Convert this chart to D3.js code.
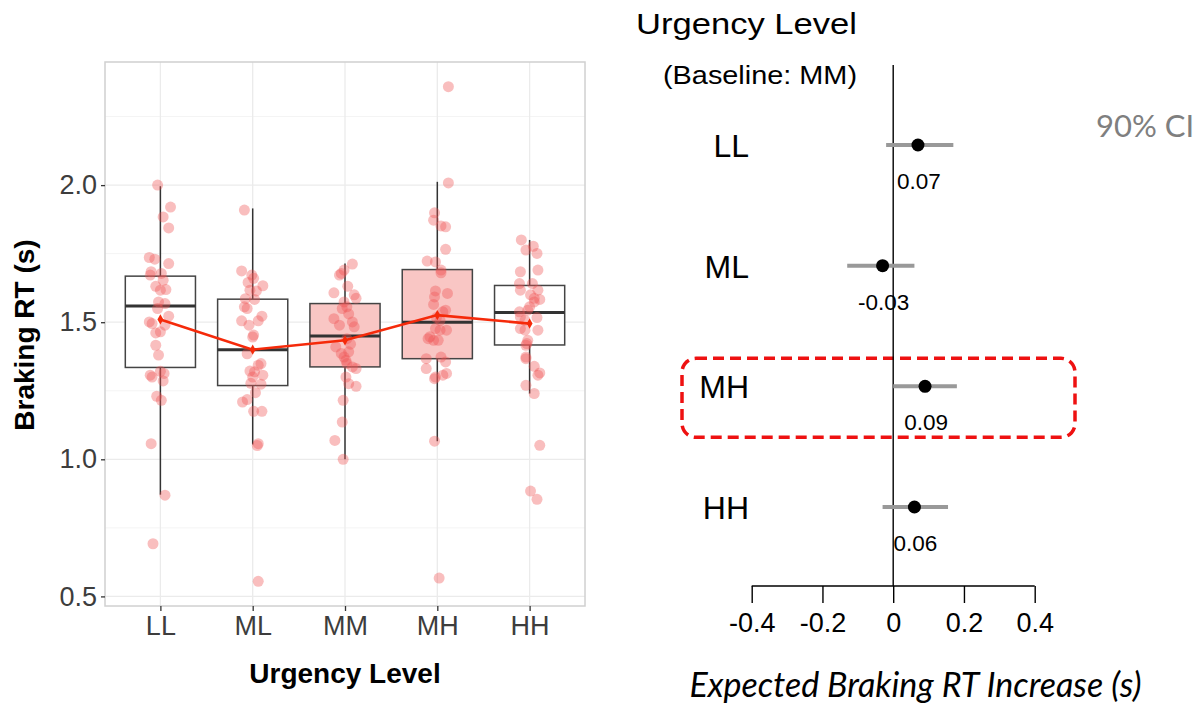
<!DOCTYPE html>
<html>
<head>
<meta charset="utf-8">
<script src="https://cdn.jsdelivr.net/npm/d3@7"></script>
<style>
  html, body { margin: 0; padding: 0; background: #ffffff; }
  svg { display: block; }
</style>
</head>
<body>
<svg id="chart" width="1199" height="707"></svg>
<script>
// ---- Braking RT by urgency level (box plots with individual drivers) ----
const levels = ["LL", "ML", "MM", "MH", "HH"];

// box statistics (s)
const whiskerLow  = [0.871, 1.054, 1.000, 1.066, 1.240];
const quartile1   = [1.335, 1.269, 1.337, 1.367, 1.417];
const medians     = [1.559, 1.400, 1.450, 1.500, 1.535];
const quartile3   = [1.668, 1.584, 1.568, 1.692, 1.634];
const whiskerHigh = [1.996, 1.915, 1.714, 2.012, 1.800];
const means       = [1.510, 1.400, 1.434, 1.526, 1.495];
const shadedBox   = [false, false, true, true, false];

// individual braking RTs (s) and their horizontal jitter (category units)
const rtLL = [2.00, 1.92, 1.884, 1.844, 1.736, 1.73, 1.714, 1.684, 1.672, 1.678, 1.653, 1.631, 1.617, 1.619,
  1.574, 1.568, 1.55, 1.522, 1.501, 1.495, 1.489, 1.461, 1.465, 1.416, 1.38, 1.307, 1.30, 1.321, 1.313,
  1.286, 1.23, 1.215, 1.057, 0.869, 0.692];
const jitLL = [-0.03, 0.11, 0.03, 0.09, -0.12, -0.06, 0.09, -0.10, -0.11, 0.01, 0.03, -0.05, 0.00, 0.06,
  -0.02, 0.05, -0.03, 0.09, -0.12, -0.09, 0.05, -0.05, 0.00, -0.05, -0.02, -0.11, -0.09, 0.00, 0.04,
  0.03, -0.04, 0.01, -0.10, 0.05, -0.08];

const rtML = [1.909, 1.687, 1.672, 1.66, 1.633, 1.645, 1.617, 1.614, 1.586, 1.583, 1.556, 1.55, 1.522, 1.505,
  1.505, 1.489, 1.453, 1.446, 1.385, 1.349, 1.343, 1.322, 1.319, 1.307, 1.30, 1.277, 1.274, 1.243, 1.218,
  1.209, 1.175, 1.175, 1.057, 1.05, 0.555];
const jitML = [-0.09, -0.12, -0.01, 0.01, 0.11, -0.05, -0.03, 0.04, -0.08, 0.02, -0.09, -0.06, 0.10, 0.06,
  -0.12, -0.04, 0.01, 0.00, -0.06, 0.09, 0.06, -0.03, 0.02, 0.11, 0.00, -0.02, 0.09, 0.03, -0.06,
  -0.11, 0.01, 0.10, 0.06, 0.05, 0.06];

const rtMM = [1.712, 1.69, 1.678, 1.672, 1.631, 1.607, 1.60, 1.587, 1.574, 1.556, 1.55, 1.53, 1.513, 1.501,
  1.489, 1.483, 1.44, 1.42, 1.41, 1.392, 1.386, 1.373, 1.361, 1.349, 1.337, 1.331, 1.30, 1.276, 1.266,
  1.215, 1.136, 1.069, 1.00];
const jitMM = [0.08, -0.01, -0.04, -0.06, 0.03, -0.12, 0.10, 0.12, -0.01, 0.02, -0.03, 0.04, -0.12, 0.08,
  -0.06, 0.10, 0.02, 0.06, -0.10, 0.04, -0.04, -0.01, 0.01, 0.02, 0.08, 0.12, 0.01, 0.04, 0.12,
  -0.02, -0.03, -0.11, -0.02];

const rtMH = [2.359, 2.008, 1.899, 1.872, 1.851, 1.848, 1.766, 1.723, 1.72, 1.69, 1.68, 1.614, 1.605, 1.592,
  1.565, 1.538, 1.544, 1.517, 1.507, 1.477, 1.471, 1.471, 1.447, 1.44, 1.434, 1.434, 1.373, 1.367, 1.355,
  1.331, 1.313, 1.307, 1.30, 1.294, 1.066, 0.567];
const jitMH = [0.12, 0.12, -0.03, -0.04, 0.04, 0.09, 0.09, -0.11, -0.02, 0.04, 0.04, -0.02, 0.11, -0.03,
  -0.04, 0.06, 0.09, -0.01, 0.03, -0.02, 0.03, 0.10, -0.08, -0.10, -0.04, 0.01, 0.04, -0.12, 0.09,
  -0.12, 0.10, 0.06, -0.02, -0.03, -0.03, 0.02];

const rtHH = [1.80, 1.777, 1.763, 1.751, 1.69, 1.684, 1.641, 1.641, 1.617, 1.617, 1.60, 1.587, 1.583, 1.574,
  1.556, 1.544, 1.538, 1.519, 1.517, 1.507, 1.477, 1.471, 1.471, 1.434, 1.422, 1.416, 1.373, 1.367, 1.339,
  1.315, 1.307, 1.27, 1.24, 1.051, 0.884, 0.854];
const jitHH = [-0.09, 0.04, -0.04, 0.08, 0.09, -0.10, -0.11, 0.03, -0.10, 0.09, 0.01, 0.05, 0.11, 0.05,
  0.00, -0.02, -0.11, -0.10, 0.08, -0.05, -0.10, -0.05, 0.09, -0.02, -0.03, -0.04, -0.04, -0.04, 0.05,
  0.11, 0.09, -0.04, 0.05, 0.11, 0.01, 0.08];

const rtByLevel  = [rtLL, rtML, rtMM, rtMH, rtHH];
const jitByLevel = [jitLL, jitML, jitMM, jitMH, jitHH];

const yTicks = [0.5, 1.0, 1.5, 2.0];
const yMinor = [0.75, 1.25, 1.75, 2.25];

// ---- Model estimates relative to MM baseline ----
const contrasts   = ["LL", "ML", "MH", "HH"];
const estimates   = [0.07, -0.03, 0.09, 0.06];
const ciLow       = [-0.02, -0.13, 0.00, -0.03];
const ciHigh      = [0.17, 0.06, 0.18, 0.155];
const effectTicks = [-0.4, -0.2, 0, 0.2, 0.4];
const highlighted = "MH";

const svg = d3.select("#chart");
const sans = "'Liberation Sans', Arial, sans-serif";

// ================= left panel =================
const panel = { left: 105, right: 585, top: 62, bottom: 606 };
const x = d3.scalePoint().domain(levels).range([panel.left, panel.right]).padding(0.6);
const step = x.step();
const y = d3.scaleLinear().domain([0.465, 2.449]).range([panel.bottom, panel.top]);

const left = svg.append("g");
left.append("rect")
  .attr("x", panel.left).attr("y", panel.top)
  .attr("width", panel.right - panel.left).attr("height", panel.bottom - panel.top)
  .attr("fill", "#ffffff");

// grid
left.selectAll(".minor").data(yMinor).join("line")
  .attr("x1", panel.left).attr("x2", panel.right)
  .attr("y1", d => y(d)).attr("y2", d => y(d))
  .attr("stroke", "#f4f4f4").attr("stroke-width", 1);
left.selectAll(".major").data(yTicks).join("line")
  .attr("x1", panel.left).attr("x2", panel.right)
  .attr("y1", d => y(d)).attr("y2", d => y(d))
  .attr("stroke", "#ebebeb").attr("stroke-width", 1.3);
left.selectAll(".vgrid").data(levels).join("line")
  .attr("x1", d => x(d)).attr("x2", d => x(d))
  .attr("y1", panel.top).attr("y2", panel.bottom)
  .attr("stroke", "#ebebeb").attr("stroke-width", 1.3);

// boxes
const boxW = step * 0.76;
const boxes = left.selectAll(".box").data(levels).join("g");
boxes.append("line")
  .attr("x1", d => x(d)).attr("x2", d => x(d))
  .attr("y1", (d, i) => y(whiskerHigh[i])).attr("y2", (d, i) => y(quartile3[i]))
  .attr("stroke", "#333").attr("stroke-width", 1.5);
boxes.append("line")
  .attr("x1", d => x(d)).attr("x2", d => x(d))
  .attr("y1", (d, i) => y(quartile1[i])).attr("y2", (d, i) => y(whiskerLow[i]))
  .attr("stroke", "#333").attr("stroke-width", 1.5);
boxes.append("rect")
  .attr("x", d => x(d) - boxW / 2).attr("width", boxW)
  .attr("y", (d, i) => y(quartile3[i]))
  .attr("height", (d, i) => y(quartile1[i]) - y(quartile3[i]))
  .attr("fill", (d, i) => shadedBox[i] ? "#f9c6c4" : "#ffffff")
  .attr("stroke", "#444").attr("stroke-width", 1.5);
boxes.append("line")
  .attr("x1", d => x(d) - boxW / 2).attr("x2", d => x(d) + boxW / 2)
  .attr("y1", (d, i) => y(medians[i])).attr("y2", (d, i) => y(medians[i]))
  .attr("stroke", "#333").attr("stroke-width", 3);

// jittered observations
const obs = [];
levels.forEach((lv, i) => rtByLevel[i].forEach((v, j) => obs.push({ lv, v, jit: jitByLevel[i][j] })));
left.selectAll(".obs").data(obs).join("circle")
  .attr("cx", d => x(d.lv) + d.jit * step)
  .attr("cy", d => y(d.v))
  .attr("r", 5.5)
  .attr("fill", "#f05454").attr("fill-opacity", 0.38);

// mean trend
left.append("path")
  .datum(levels)
  .attr("d", d3.line().x(d => x(d)).y((d, i) => y(means[i])))
  .attr("fill", "none").attr("stroke", "#f52a0a").attr("stroke-width", 2.6);
left.selectAll(".meanpt").data(levels).join("path")
  .attr("d", d3.symbol().type(d3.symbolDiamond).size(30))
  .attr("transform", (d, i) => `translate(${x(d)},${y(means[i])})`)
  .attr("fill", "#f52a0a");

// panel border
left.append("rect")
  .attr("x", panel.left).attr("y", panel.top)
  .attr("width", panel.right - panel.left).attr("height", panel.bottom - panel.top)
  .attr("fill", "none").attr("stroke", "#d0d0d0").attr("stroke-width", 1.5);

// axes
const yAxis = left.append("g").attr("transform", `translate(${panel.left},0)`)
  .call(d3.axisLeft(y).tickValues(yTicks).tickFormat(d3.format(".1f")).tickSize(4).tickPadding(4));
const xAxis = left.append("g").attr("transform", `translate(0,${panel.bottom})`)
  .call(d3.axisBottom(x).tickSize(5).tickPadding(5));
[yAxis, xAxis].forEach(g => {
  g.select(".domain").remove();
  g.selectAll(".tick line").attr("stroke", "#333").attr("stroke-width", 1.3);
  g.selectAll(".tick text").attr("fill", "#3d3d3d")
    .style("font-family", sans).style("font-size", "27px");
});

left.append("text")
  .attr("x", 345).attr("y", 683)
  .attr("text-anchor", "middle")
  .style("font-family", sans)
  .style("font-size", "28px").style("font-weight", "bold")
  .text("Urgency Level");
left.append("text")
  .attr("transform", `translate(34,${(panel.top + panel.bottom) / 2 + 1}) rotate(-90)`)
  .attr("text-anchor", "middle")
  .style("font-family", sans)
  .style("font-size", "28px").style("font-weight", "bold")
  .text("Braking RT (s)");

// ================= right panel =================
const fx = d3.scaleLinear().domain([-0.4, 0.4]).range([751.7, 1034.7]);
const fy = d3.scalePoint().domain(contrasts).range([145, 507]);
const axisY = 586;
const right = svg.append("g");

right.append("text").attr("x", 636).attr("y", 34)
  .attr("textLength", 221).attr("lengthAdjust", "spacingAndGlyphs")
  .style("font-family", sans).style("font-size", "30px")
  .text("Urgency Level");
right.append("text").attr("x", 663).attr("y", 84)
  .attr("textLength", 194).attr("lengthAdjust", "spacingAndGlyphs")
  .style("font-family", sans).style("font-size", "25px")
  .text("(Baseline: MM)");

// highlighted contrast frame
right.append("rect")
  .attr("x", 682).attr("y", fy(highlighted) - 28)
  .attr("width", 393).attr("height", 79)
  .attr("rx", 14).attr("ry", 14)
  .attr("fill", "none").attr("stroke", "#ee1111").attr("stroke-width", 3.5)
  .attr("stroke-dasharray", "11,6");

// zero reference line
right.append("line")
  .attr("x1", fx(0)).attr("x2", fx(0)).attr("y1", 65).attr("y2", axisY)
  .attr("stroke", "#000").attr("stroke-width", 1.4);

// effect axis
const fAxis = right.append("g").attr("transform", `translate(0,${axisY})`)
  .call(d3.axisBottom(fx).tickValues(effectTicks).tickSize(17).tickPadding(10)
    .tickFormat(d => d === 0 ? "0" : d3.format(".1f")(d).replace("\u2212", "-")));
fAxis.select(".domain").attr("stroke", "#000").attr("stroke-width", 1.4)
  .attr("d", `M${fx(-0.4)},0H${fx(0.4)}`);
fAxis.selectAll(".tick line").attr("stroke", "#000").attr("stroke-width", 1.4);
fAxis.selectAll(".tick text").attr("fill", "#000")
  .style("font-family", sans).style("font-size", "27px");

// contrast labels
right.selectAll(".clab").data(contrasts).join("text")
  .attr("x", 749).attr("y", d => fy(d) + 12)
  .attr("text-anchor", "end")
  .style("font-family", sans).style("font-size", "32px")
  .text(d => d);

// intervals and estimates
right.selectAll(".ci").data(contrasts).join("line")
  .attr("x1", (d, i) => fx(ciLow[i])).attr("x2", (d, i) => fx(ciHigh[i]))
  .attr("y1", d => fy(d)).attr("y2", d => fy(d))
  .attr("stroke", "#999").attr("stroke-width", 4);
right.selectAll(".est").data(contrasts).join("circle")
  .attr("cx", (d, i) => fx(estimates[i])).attr("cy", d => fy(d))
  .attr("r", 6.5).attr("fill", "#000");
right.selectAll(".estlab").data(contrasts).join("text")
  .attr("x", (d, i) => fx(estimates[i]) + 1).attr("y", d => fy(d) + 44)
  .attr("text-anchor", "middle")
  .style("font-family", sans).style("font-size", "22.5px")
  .text((d, i) => d3.format(".2f")(estimates[i]).replace("\u2212", "-"));

right.append("text").attr("x", 1096).attr("y", 137)
  .style("font-family", "Lato, 'Open Sans', sans-serif").style("font-size", "31px")
  .attr("fill", "#7f7f7f")
  .text("90% CI");

right.append("text").attr("x", 915.5).attr("y", 697)
  .attr("text-anchor", "middle")
  .style("font-family", "Lato, 'Open Sans', sans-serif").style("font-size", "34px")
  .style("font-style", "italic")
  .text("Expected Braking RT Increase (s)");
</script>
</body>
</html>
